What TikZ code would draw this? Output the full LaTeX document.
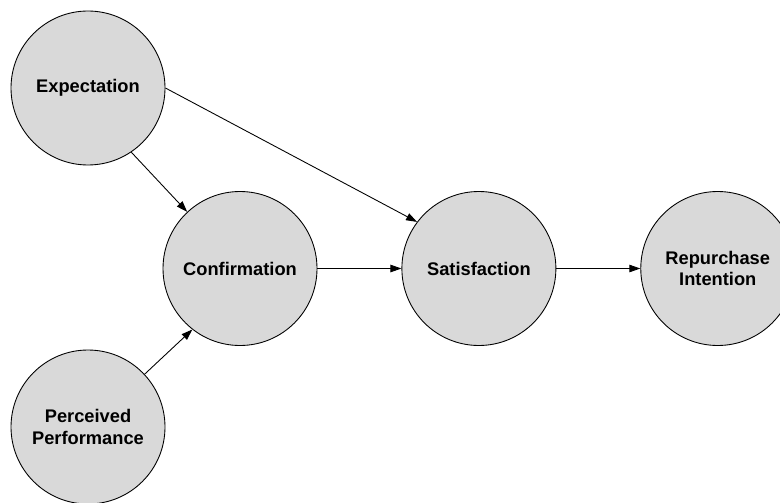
\documentclass[tikz,border=0pt]{standalone}
\usepackage{fontspec}
\setmainfont{Liberation Sans}
\usepackage{tikz}
\usetikzlibrary{positioning}
\usetikzlibrary{arrows.meta}

\begin{document}
\begin{tikzpicture}[node distance=1.68cm,
    construct/.style={draw, circle, fill={rgb,255:red,217;green,217;blue,217}, line width=0.5pt, minimum size=3.08cm, inner sep=0pt, font=\bfseries\fontsize{10.4}{12}\selectfont, align=center},
    link/.style={-{Triangle[length=0.22cm,width=0.15cm]}, line width=0.5pt}]

      \useasboundingbox (0,0) rectangle (15.6,10.04);

      \node[construct] (exp) at (1.76,8.28) {Expectation};

      \node[construct] (perf) at (1.76,1.50) {Perceived\\Performance};

      \node[construct] (conf) at (4.80,4.67) {Confirmation};

      \node[construct, right=of conf] (sat) {Satisfaction};

      \node[construct, right=of sat] (rep) {Repurchase\\Intention};

      \draw[link] (exp.-56) -- (conf.133);
      \draw[link] (perf.43) -- (conf.232);
      \draw[link] (exp.east) -- (sat.143);
      \draw[link] (conf) -- (sat);
      \draw[link] (sat) -- (rep);

  \end{tikzpicture}
\end{document}
